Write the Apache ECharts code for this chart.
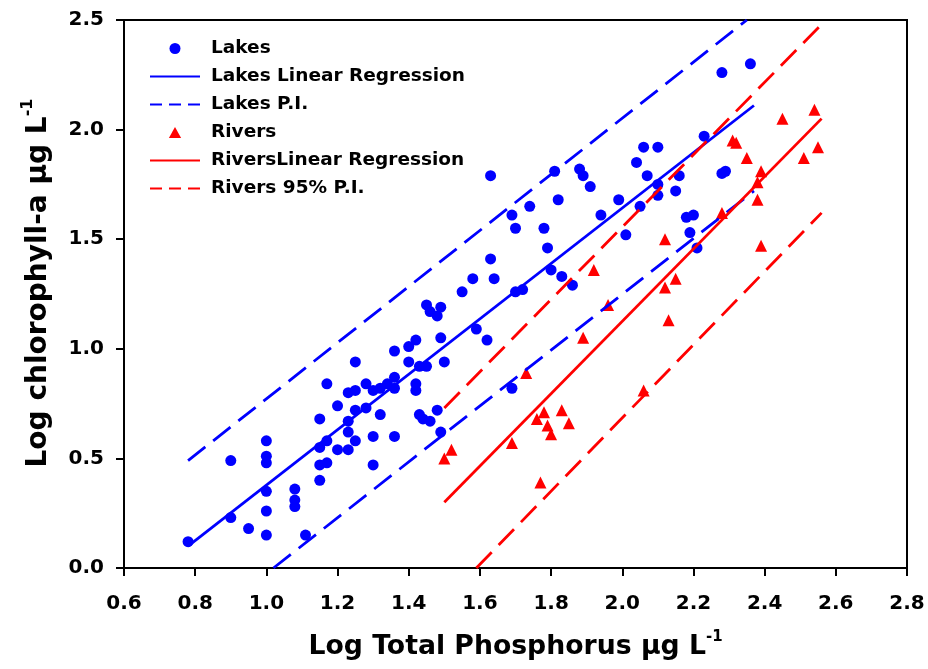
<!DOCTYPE html>
<html>
<head>
<meta charset="utf-8">
<script src="https://cdn.jsdelivr.net/npm/echarts@6/dist/echarts.min.js"></script>
<style>
html,body{margin:0;padding:0;background:#fff;}
#c{width:928px;height:669px;}
</style>
</head>
<body>
<div id="c"></div>
<script>
// ---- data (log10 values) ----
const lakes = [
  [0.78,0.12],[0.90,0.49],[0.90,0.23],[0.95,0.18],[1.00,0.58],[1.00,0.51],[1.00,0.48],
  [1.00,0.35],[1.00,0.26],[1.00,0.15],[1.08,0.36],[1.08,0.31],[1.08,0.28],[1.11,0.15],
  [1.15,0.68],[1.15,0.55],[1.15,0.47],[1.15,0.40],[1.17,0.84],[1.17,0.58],[1.17,0.48],
  [1.20,0.74],[1.20,0.54],[1.23,0.80],[1.23,0.67],[1.23,0.62],[1.23,0.54],[1.25,0.94],
  [1.25,0.81],[1.25,0.72],[1.25,0.58],[1.28,0.84],[1.28,0.73],[1.30,0.81],[1.32,0.82],
  [1.32,0.70],[1.34,0.84],[1.36,0.82],[1.36,0.87],[1.36,0.99],[1.30,0.60],[1.30,0.47],
  [1.36,0.60],[1.40,1.01],[1.40,0.94],[1.42,1.04],[1.42,0.84],[1.42,0.81],[1.43,0.92],
  [1.45,0.92],[1.43,0.70],[1.44,0.68],[1.46,0.67],[1.48,0.72],[1.49,0.62],[1.45,1.20],
  [1.46,1.17],[1.48,1.15],[1.49,1.19],[1.49,1.05],[1.50,0.94],[1.55,1.26],[1.58,1.32],
  [1.59,1.09],[1.62,1.04],[1.63,1.41],[1.64,1.32],[1.63,1.79],[1.69,1.61],[1.70,1.55],
  [1.69,0.82],[1.70,1.26],[1.72,1.27],[1.74,1.65],[1.78,1.55],[1.79,1.46],[1.80,1.36],
  [1.81,1.81],[1.82,1.68],[1.83,1.33],[1.86,1.29],[1.88,1.82],[1.89,1.79],[1.91,1.74],
  [1.94,1.61],[1.99,1.68],[2.01,1.52],[2.04,1.85],[2.05,1.65],[2.06,1.92],[2.07,1.79],
  [2.10,1.92],[2.10,1.75],[2.10,1.70],[2.15,1.72],[2.16,1.79],[2.18,1.60],[2.20,1.61],
  [2.19,1.53],[2.21,1.46],[2.23,1.97],[2.28,2.26],[2.28,1.80],[2.29,1.81],[2.36,2.30]
];
const rivers = [
  [1.50,0.50],[1.52,0.54],[1.69,0.57],[1.73,0.89],[1.76,0.68],[1.77,0.39],[1.78,0.71],
  [1.79,0.65],[1.80,0.61],[1.83,0.72],[1.85,0.66],[1.89,1.05],[1.92,1.36],[1.96,1.20],
  [2.06,0.81],[2.12,1.50],[2.12,1.28],[2.13,1.13],[2.15,1.32],[2.28,1.62],[2.31,1.95],
  [2.32,1.94],[2.35,1.87],[2.38,1.76],[2.38,1.68],[2.39,1.81],[2.39,1.47],[2.45,2.05],
  [2.51,1.87],[2.54,2.09],[2.55,1.92]
];
const lakesFit      = [[0.78,0.10],[2.37,2.11]];
const lakesPIUpper  = [[0.78,0.49],[2.35,2.50]];
const lakesPILower  = [[1.02,0.00],[2.37,1.72]];
const riversFit     = [[1.50,0.30],[2.56,2.05]];
const riversPIUpper = [[1.50,0.73],[2.56,2.48]];
const riversPILower = [[1.59,0.00],[2.56,1.62]];
const xTicks = {min:0.6, max:2.8, step:0.2};
const yTicks = {min:0.0, max:2.5, step:0.5};
const legendNames = ['Lakes','Lakes Linear Regression','Lakes P.I.','Rivers','RiversLinear Regression','Rivers 95% P.I.'];

// ---- chart ----
const BLUE = '#0000ff', RED = '#ff0000';
const FONT = '"DejaVu Sans", "Liberation Sans", sans-serif';
const DASH = [22, 10];
const LEG_DASH = [12, 7];
const TRI = 'path://M5,0 L10,9 L0,9 Z';

function lineSeries(name, data, color, dashed) {
  return {
    name, type:'line', data, symbol:'none', silent:true, clip:true, z:3,
    lineStyle:{color, width:2.8, type: dashed ? DASH : 'solid'},
    itemStyle:{color}
  };
}

function nameStyle(size, supSize, lh, padding) {
  return {
    fontFamily:FONT, fontWeight:'bold', color:'#000', padding,
    rich:{
      m:{fontFamily:FONT, fontWeight:'bold', fontSize:size, color:'#000', lineHeight:lh, verticalAlign:'bottom'},
      s:{fontFamily:FONT, fontWeight:'bold', fontSize:supSize, color:'#000', lineHeight:lh, verticalAlign:'top'}
    }
  };
}

const axisCommon = {
  type:'value',
  axisLine:{show:true, onZero:false, lineStyle:{color:'#000', width:2}},
  axisTick:{show:true, inside:false, length:8, lineStyle:{color:'#000', width:2}},
  splitLine:{show:false},
  nameLocation:'middle'
};

const hiddenDot = {opacity:0};

const option = {
  animation:false,
  backgroundColor:'#fff',
  grid:{left:124, right:21, top:20, bottom:101, show:true, borderColor:'#000', borderWidth:2, containLabel:false},
  legend:{
    orient:'vertical', left:144, top:33,
    itemWidth:50, itemHeight:11, itemGap:7,
    symbolKeepAspect:true,
    textStyle:{fontFamily:FONT, fontWeight:'bold', fontSize:18.5, color:'#000', lineHeight:21, padding:[0,0,0,6]},
    data:[
      {name:legendNames[0], icon:'circle'},
      {name:legendNames[1], itemStyle:hiddenDot},
      {name:legendNames[2], itemStyle:hiddenDot, lineStyle:{type:LEG_DASH}},
      {name:legendNames[3], icon:TRI},
      {name:legendNames[4], itemStyle:hiddenDot},
      {name:legendNames[5], itemStyle:hiddenDot, lineStyle:{type:LEG_DASH}}
    ]
  },
  xAxis:Object.assign({}, axisCommon, {
    min:xTicks.min, max:xTicks.max, interval:xTicks.step,
    name:'{m|Log Total Phosphorus µg L}{s|-1}', nameGap:62,
    nameTextStyle:nameStyle(26.7, 15, 31, 0),
    axisLabel:{formatter:v=>v.toFixed(1), fontFamily:FONT, fontWeight:'bold', fontSize:20, color:'#000', margin:26}
  }),
  yAxis:Object.assign({}, axisCommon, {
    min:yTicks.min, max:yTicks.max, interval:yTicks.step,
    name:'{m|Log chlorophyll-a µg L}{s|-1}', nameGap:71,
    nameTextStyle:nameStyle(28, 16, 33, [0,0,0,22]),
    axisLabel:{formatter:v=>v.toFixed(1), fontFamily:FONT, fontWeight:'bold', fontSize:20, color:'#000', margin:20}
  }),
  series:[
    {name:legendNames[0], type:'scatter', data:lakes, symbol:'circle', symbolSize:11, itemStyle:{color:BLUE, opacity:1}, z:2},
    lineSeries(legendNames[1], lakesFit, BLUE, false),
    lineSeries(legendNames[2], lakesPIUpper, BLUE, true),
    lineSeries(legendNames[2], lakesPILower, BLUE, true),
    {name:legendNames[3], type:'scatter', data:rivers, symbol:'triangle', symbolSize:12, itemStyle:{color:RED, opacity:1}, z:2},
    lineSeries(legendNames[4], riversFit, RED, false),
    lineSeries(legendNames[5], riversPIUpper, RED, true),
    lineSeries(legendNames[5], riversPILower, RED, true)
  ]
};

const chart = echarts.init(document.getElementById('c'), null, {renderer:'canvas'});
chart.setOption(option);
</script>
</body>
</html>
